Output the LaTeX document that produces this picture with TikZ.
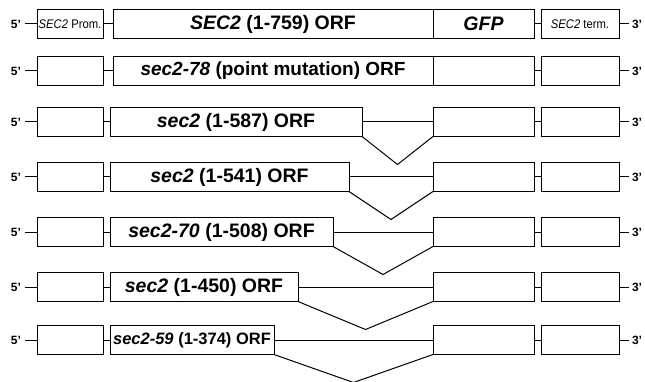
\documentclass[tikz,border=0pt]{standalone}
\usepackage{fontspec}
\setmainfont{Liberation Sans}
\begin{document}
\begin{tikzpicture}[x=1pt,y=-1pt,
  bx/.style={draw,line width=1pt,minimum height=29pt,inner sep=0pt,outer sep=0pt},
  ln/.style={line width=1pt},
  endlab/.style={font=\fontsize{12}{12}\selectfont\bfseries,inner sep=0pt},
  small/.style={font=\fontsize{12.5}{13}\selectfont}]
\useasboundingbox (0,0) rectangle (645,382);
% row 1
\node[endlab] (f1) at (16,24) {5'};
\node[bx,small,minimum width=66pt] (p1) at (70,24) {\scalebox{0.9}[1]{\textit{SEC2} Prom.}};
\node[bx,minimum width=320pt,font=\fontsize{19.5}{20}\selectfont\bfseries] (o1) at (273,24) {\textit{SEC2} (1-759) ORF};
\node[bx,minimum width=101pt,font=\fontsize{19.5}{20}\selectfont\bfseries] (g1) at (483.5,24) {\textit{GFP}};
\node[bx,small,minimum width=78pt] (t1) at (580,24) {\scalebox{0.9}[1]{\textit{SEC2} term.}};
\node[endlab] (e1) at (637,24) {3'};
\draw[ln] ([xshift=4pt]f1.east) -- (p1.west);
\draw[ln] (p1.east) -- (o1.west);
\draw[ln] (g1.east) -- (t1.west);
\draw[ln] (t1.east) -- ([xshift=-3pt]e1.west);
% row 2
\node[endlab] (f2) at (16,71) {5'};
\node[bx,minimum width=66pt] (p2) at (70,71) {};
\node[bx,minimum width=320pt,font=\fontsize{19}{19}\selectfont\bfseries] (o2) at (273,71) {\textit{sec2-78} (point mutation) ORF};
\node[bx,minimum width=101pt] (g2) at (483.5,71) {};
\node[bx,minimum width=78pt] (t2) at (580,71) {};
\node[endlab] (e2) at (637,71) {3'};
\draw[ln] ([xshift=4pt]f2.east) -- (p2.west);
\draw[ln] (p2.east) -- (o2.west);
\draw[ln] (g2.east) -- (t2.west);
\draw[ln] (t2.east) -- ([xshift=-3pt]e2.west);
% rows 3-7
\foreach \i/\y/\r/\sz/\lab in {
  3/122/362/19.5/{\textit{sec2} (1-587) ORF},
  4/177/349/19.5/{\textit{sec2} (1-541) ORF},
  5/232/333/19.5/{\textit{sec2-70} (1-508) ORF},
  6/287/298/19.5/{\textit{sec2} (1-450) ORF},
  7/340/274/16.5/{\textit{sec2-59} (1-374) ORF}}{
  \node[endlab] (f\i) at (16,\y) {5'};
  \node[bx,minimum width=66pt] (p\i) at (70,\y) {};
  \node[bx,minimum width={(\r-110)*1pt},font=\fontsize{\sz}{\sz}\selectfont\bfseries] (o\i) at ({(110+\r)/2},\y) {\lab};
  \node[bx,minimum width=101pt] (g\i) at (483.5,\y) {};
  \node[bx,minimum width=78pt] (t\i) at (580,\y) {};
  \node[endlab] (e\i) at (637,\y) {3'};
  \coordinate (v\i) at ({(\r+433)/2},{\y+14.5+28});
  \draw[ln] ([xshift=4pt]f\i.east) -- (p\i.west);
  \draw[ln] (p\i.east) -- (o\i.west);
  \draw[ln] (o\i.east) -- (g\i.west);
  \draw[ln] (o\i.south east) -- (v\i) -- (g\i.south west);
  \draw[ln] (g\i.east) -- (t\i.west);
  \draw[ln] (t\i.east) -- ([xshift=-3pt]e\i.west);
}
\end{tikzpicture}
\end{document}
